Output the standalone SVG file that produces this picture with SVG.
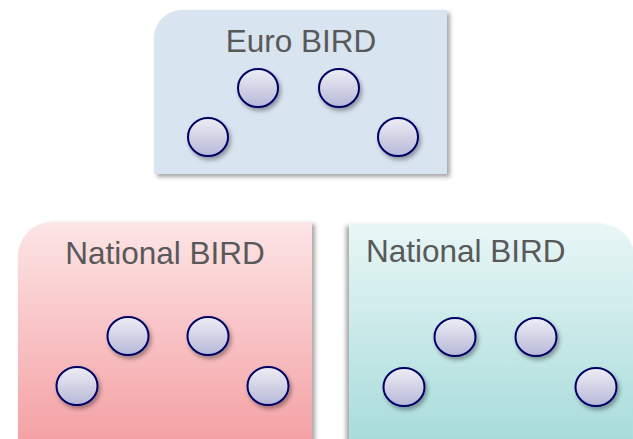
<svg xmlns="http://www.w3.org/2000/svg" width="633" height="439" viewBox="0 0 633 439">
  <defs>
    <linearGradient id="gPink" x1="0" y1="0" x2="0" y2="1">
      <stop offset="0" stop-color="#fde5e6"/>
      <stop offset="1" stop-color="#f4a0a3"/>
    </linearGradient>
    <linearGradient id="gTeal" x1="0" y1="0" x2="0" y2="1">
      <stop offset="0" stop-color="#e9f6f6"/>
      <stop offset="1" stop-color="#a7dcdb"/>
    </linearGradient>
    <linearGradient id="gNode" x1="0" y1="0" x2="0" y2="1">
      <stop offset="0" stop-color="#eeeef5"/>
      <stop offset="1" stop-color="#b6b7d7"/>
    </linearGradient>
    <filter id="shTop" x="-10%" y="-10%" width="120%" height="125%">
      <feDropShadow dx="3" dy="3" stdDeviation="2" flood-color="#000" flood-opacity="0.35"/>
    </filter>
    <filter id="shLeft" x="-10%" y="-10%" width="120%" height="125%">
      <feDropShadow dx="3" dy="2" stdDeviation="2" flood-color="#000" flood-opacity="0.35"/>
    </filter>
    <filter id="shRight" x="-10%" y="-10%" width="120%" height="125%">
      <feDropShadow dx="-3" dy="2" stdDeviation="2" flood-color="#000" flood-opacity="0.35"/>
    </filter>
    <filter id="shNode" x="-30%" y="-30%" width="170%" height="180%">
      <feDropShadow dx="2" dy="3" stdDeviation="2" flood-color="#000" flood-opacity="0.35"/>
    </filter>
  </defs>
  <style>
    .lbl { font-family: "Liberation Sans", Arial, sans-serif; font-size: 31.5px; fill: #595959; }
    .node ellipse { fill: url(#gNode); stroke: #000066; stroke-width: 2; filter: url(#shNode); }
  </style>

  <g id="euro-bird">
    <path d="M154,38 A28,28 0 0 1 182,10 L447,10 L447,174 L154,174 Z" fill="#d9e4f1" filter="url(#shTop)"/>
    <text class="lbl" x="301" y="52" text-anchor="middle">Euro BIRD</text>
    <g class="node" id="euro-n1"><ellipse cx="258" cy="88" rx="20" ry="19"/></g>
    <g class="node" id="euro-n2"><ellipse cx="339" cy="88" rx="20" ry="19"/></g>
    <g class="node" id="euro-n3"><ellipse cx="208" cy="137" rx="20" ry="19"/></g>
    <g class="node" id="euro-n4"><ellipse cx="398" cy="137" rx="20" ry="19"/></g>
  </g>

  <g id="national-bird-left">
    <path d="M18,256 A34,34 0 0 1 52,222 L312,222 L312,445 L18,445 Z" fill="url(#gPink)" filter="url(#shLeft)"/>
    <text class="lbl" x="165" y="264" text-anchor="middle">National BIRD</text>
    <g class="node" id="nl-n1"><ellipse cx="128" cy="336" rx="20.5" ry="19"/></g>
    <g class="node" id="nl-n2"><ellipse cx="208" cy="336" rx="20.5" ry="19"/></g>
    <g class="node" id="nl-n3"><ellipse cx="77" cy="386" rx="20.5" ry="19"/></g>
    <g class="node" id="nl-n4"><ellipse cx="268" cy="386" rx="20.5" ry="19"/></g>
  </g>

  <g id="national-bird-right">
    <path d="M349,224 L600,224 A35,35 0 0 1 635,259 L635,445 L349,445 Z" fill="url(#gTeal)" filter="url(#shRight)"/>
    <text class="lbl" x="366" y="262">National BIRD</text>
    <g class="node" id="nr-n1"><ellipse cx="455" cy="337" rx="20.5" ry="19"/></g>
    <g class="node" id="nr-n2"><ellipse cx="536" cy="337" rx="20.5" ry="19"/></g>
    <g class="node" id="nr-n3"><ellipse cx="404" cy="387" rx="20.5" ry="19"/></g>
    <g class="node" id="nr-n4"><ellipse cx="596" cy="387" rx="20.5" ry="19"/></g>
  </g>

  <g id="connectors"/>
</svg>
